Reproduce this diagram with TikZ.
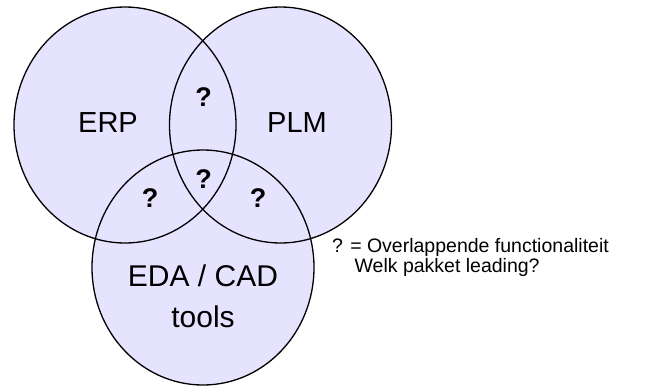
\documentclass[tikz,border=0pt]{standalone}
\usepackage{fontspec}
\setmainfont{Liberation Sans}
\definecolor{vennfill}{RGB}{230,227,255}
\begin{document}
\begin{tikzpicture}[x=1pt,y=-1pt,
  setfill/.style={fill=vennfill},
  setline/.style={draw=black,line width=1.3pt},
  biglabel/.style={font=\fontsize{29}{34}\selectfont,inner sep=0pt},
  qlabel/.style={font=\fontsize{27}{30}\selectfont\bfseries,inner sep=0pt},
  legend/.style={font=\fontsize{19.5}{20}\selectfont,inner sep=0pt,anchor=north west,align=left}]
\useasboundingbox (0,0) rectangle (649,386);
% fills
\fill[setfill] (125,125) ellipse [x radius=111, y radius=118];
\fill[setfill] (280.5,125) ellipse [x radius=111, y radius=118];
\fill[setfill] (203,267.5) ellipse [x radius=111, y radius=117.5];
% outlines
\draw[setline] (125,125) ellipse [x radius=111, y radius=118];
\draw[setline] (280.5,125) ellipse [x radius=111, y radius=118];
\draw[setline] (203,267.5) ellipse [x radius=111, y radius=117.5];
% labels
\node[biglabel] (erp) at (108,122.5) {ERP};
\node[biglabel] (plm) at (297,122.5) {PLM};
\node[biglabel,align=center,font=\fontsize{30}{41}\selectfont] (eda) at (203,296) {EDA / CAD\\tools};
\node[qlabel] (q1) at (203.5,97) {?};
\node[qlabel] (q2) at (203.5,179) {?};
\node[qlabel] (q3) at (150,198) {?};
\node[qlabel] (q4) at (258,198) {?};
\node[legend] (leg) at (332,238.5) {? = Overlappende functionaliteit\\\hspace*{1.15em}Welk pakket leading?};
\end{tikzpicture}
\end{document}
